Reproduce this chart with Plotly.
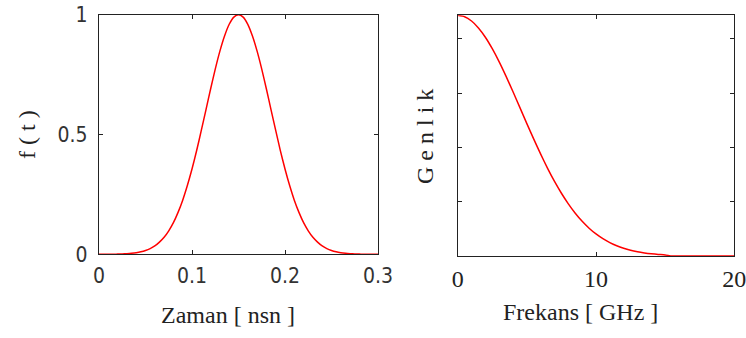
import plotly.graph_objects as go

# Time-domain pulse (t in ns), peak at 0.15 ns
t_ns = [i * 0.005 for i in range(61)]
f_t = [0, 0, 0, 0, 0.0009, 0.0016, 0.0026, 0.0043, 0.0068, 0.0105,
       0.016, 0.024, 0.035, 0.051, 0.071, 0.098, 0.132, 0.175, 0.226, 0.287,
       0.356, 0.433, 0.517, 0.603, 0.690, 0.773, 0.848, 0.911, 0.960, 0.990,
       1.000,
       0.990, 0.960, 0.911, 0.848, 0.773, 0.690, 0.603, 0.517, 0.433, 0.356,
       0.287, 0.226, 0.175, 0.132, 0.098, 0.071, 0.051, 0.035, 0.024, 0.016,
       0.0105, 0.0068, 0.0043, 0.0026, 0.0016, 0.0009, 0, 0, 0, 0]

# Spectrum (f in GHz)
freq_ghz = [i * 0.5 for i in range(41)]
genlik = [4.43, 4.404, 4.325, 4.198, 4.026, 3.815, 3.573, 3.306, 3.022, 2.730,
          2.437, 2.150, 1.874, 1.614, 1.373, 1.155, 0.960, 0.788, 0.639, 0.512,
          0.406, 0.318, 0.246, 0.188, 0.142, 0.106, 0.078, 0.057, 0.041, 0.029,
          0.020, 0, 0, 0, 0, 0, 0, 0, 0, 0, 0]

W, H = 746, 338


def px(x):
    return x / W


def py(y):
    return 1 - y / H


fig = go.Figure()
fig.add_trace(go.Scatter(x=t_ns, y=f_t, mode="lines",
                         line=dict(color="#ff0000", width=1.5, shape="spline", smoothing=0.6),
                         xaxis="x", yaxis="y", showlegend=False, cliponaxis=False))
fig.add_trace(go.Scatter(x=freq_ghz, y=genlik, mode="lines",
                         line=dict(color="#ff0000", width=1.5, shape="spline", smoothing=0.6),
                         xaxis="x2", yaxis="y2", showlegend=False, cliponaxis=False))

sans = dict(family="Liberation Sans Narrow, DejaVu Sans Condensed, Liberation Sans, Arial", size=21, color="#333")
serif = dict(family="Liberation Serif, Times New Roman, serif", size=24, color="#222")
axis_common = dict(showline=True, linecolor="#222", linewidth=1.3, mirror="ticks", ticks="inside",
                   ticklen=4, tickcolor="#222", showgrid=False, zeroline=False, automargin=False,
                   ticklabeloverflow="allow")

fig.update_layout(
    width=W, height=H, margin=dict(l=0, r=0, t=0, b=0, autoexpand=False),
    paper_bgcolor="white", plot_bgcolor="white",
    xaxis=dict(domain=[px(99), px(378)], range=[0, 0.3], tickvals=[0, 0.1, 0.2, 0.3],
               ticktext=["0", "0.1", "0.2", "0.3"], tickfont=sans, anchor="y", ticklabelstandoff=2,
               **axis_common),
    yaxis=dict(domain=[py(254.3), py(14.7)], range=[0, 1], tickvals=[0, 0.5, 1],
               ticktext=["0", "0.5", "1"], tickfont=sans, anchor="x", ticklabelstandoff=6,
               **axis_common),
    xaxis2=dict(domain=[px(457.7), px(734.3)], range=[0, 20], tickvals=[0, 10, 20],
                tickfont=serif, anchor="y2", ticklabelstandoff=1, **axis_common),
    yaxis2=dict(domain=[py(256), py(15.3)], range=[0, 4.43], tickvals=[1, 2, 3, 4],
                showticklabels=False, anchor="x2", **axis_common),
)

annos = [
    dict(text="Zaman [ nsn ]", x=px(228), y=py(315), textangle=0),
    dict(text="Frekans [ GHz ]", x=px(580), y=py(312), textangle=0),
    dict(text="f ( t )", x=px(27), y=py(135), textangle=-90),
    dict(text="G e n l i k", x=px(425), y=py(137), textangle=-90),
]
for a in annos:
    fig.add_annotation(xref="paper", yref="paper", showarrow=False, font=serif,
                       xanchor="center", yanchor="middle", **a)

fig.write_html("out.html", config={"displayModeBar": False},
               post_script="document.body.style.margin='0';document.body.style.overflow='hidden';")
